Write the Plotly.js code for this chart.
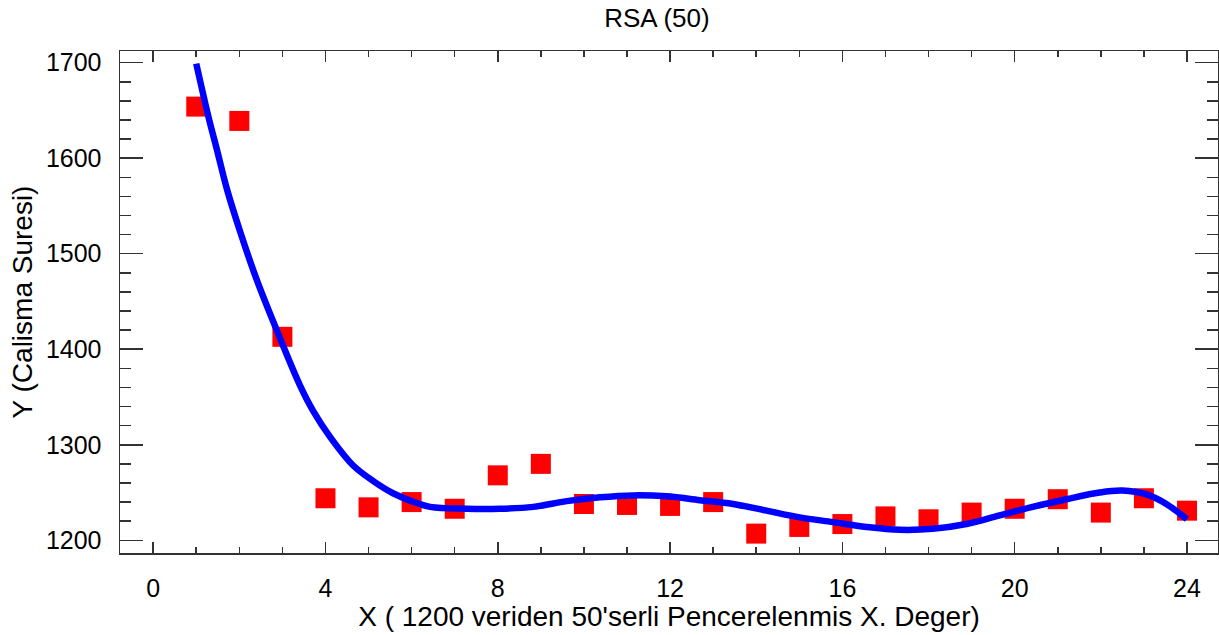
<!DOCTYPE html>
<html>
<head>
<meta charset="utf-8">
<script src="https://cdn.plot.ly/plotly-3.0.1.min.js"></script>
<style>html,body{margin:0;padding:0;background:#fff;}#chart{width:1219px;height:635px;}</style>
</head>
<body>
<div id="chart"></div>
<script>
// Observed data (red squares)
const pointX = [1,2,3,4,5,6,7,8,9,10,11,12,13,14,15,16,17,18,19,20,21,22,23,24];
const pointY = [1654,1639,1413,1244,1234.5,1240,1233,1268,1280,1238,1237,1236,1240,1207,1214,1217,1225,1222,1229,1233,1243,1229,1244,1231];

// Fitted curve (blue line)
const curveX = [1,1.28,1.48,1.71,2.02,2.41,2.95,3.41,3.72,4.11,4.65,5.11,5.58,6.0,6.43,7.28,8.05,8.82,9.6,10.37,11.14,11.92,12.69,13.46,14.24,15.01,15.78,16.56,17.33,18.1,18.88,19.65,20.42,21.2,21.97,22.5,23.06,23.52,24];
const curveY = [1699,1644,1609,1568,1523,1472,1411,1362,1335,1308,1278,1262,1249,1241,1235,1233,1233,1235,1241,1245,1247,1246,1242,1238,1231,1224,1219,1214,1211,1212,1217,1226,1235,1243,1250,1252,1248,1238,1222];

const titleText = "RSA (50)";
const xTitle = "X ( 1200 veriden 50'serli Pencerelenmis X. Deger)";
const yTitle = "Y (Calisma Suresi)";

const FONT = '"Liberation Sans", Arial, sans-serif';

const traces = [
  {
    x: pointX, y: pointY, type: 'scatter', mode: 'markers',
    marker: {symbol: 'square', size: 20, color: '#ff0000', line: {width: 0}},
    hoverinfo: 'x+y', showlegend: false
  },
  {
    x: curveX, y: curveY, type: 'scatter', mode: 'lines',
    line: {color: '#0000ff', width: 6.5, shape: 'spline', smoothing: 1.0},
    hoverinfo: 'x+y', showlegend: false
  }
];

const axisCommon = {
  showgrid: false, zeroline: false, showline: true, linecolor: '#333', linewidth: 1.5,
  mirror: 'allticks', ticks: 'inside', tickcolor: '#333', tickwidth: 1.5,
  tickfont: {family: FONT, size: 25, color: '#000'}
};

const layout = {
  width: 1219, height: 635,
  margin: {l: 120, r: 1, t: 51, b: 82, pad: 0},
  paper_bgcolor: '#fff', plot_bgcolor: '#fff',
  font: {family: FONT, color: '#000'},
  title: {text: titleText, font: {family: FONT, size: 26, color: '#000'},
          xref: 'paper', x: 0.489, xanchor: 'center', yref: 'container', y: 0.972, yanchor: 'middle'},
  xaxis: Object.assign({}, axisCommon, {
    range: [-0.77, 24.72], tick0: 0, dtick: 4, ticklen: 11,
    minor: {dtick: 1, tick0: 0, ticklen: 6, ticks: 'inside', tickcolor: '#333', tickwidth: 1.5},
    ticklabelstandoff: 12,
    title: {text: xTitle, font: {family: FONT, size: 28, color: '#000'}, standoff: 1}
  }),
  yaxis: Object.assign({}, axisCommon, {
    range: [1186.7, 1712.2], tick0: 1200, dtick: 100, ticklen: 23,
    minor: {dtick: 20, tick0: 1200, ticklen: 11, ticks: 'inside', tickcolor: '#333', tickwidth: 1.5},
    ticklabelstandoff: 12,
    title: {text: yTitle, font: {family: FONT, size: 28, color: '#000'}, standoff: 5}
  })
};

Plotly.newPlot('chart', traces, layout, {displayModeBar: false, staticPlot: true});
</script>
</body>
</html>
